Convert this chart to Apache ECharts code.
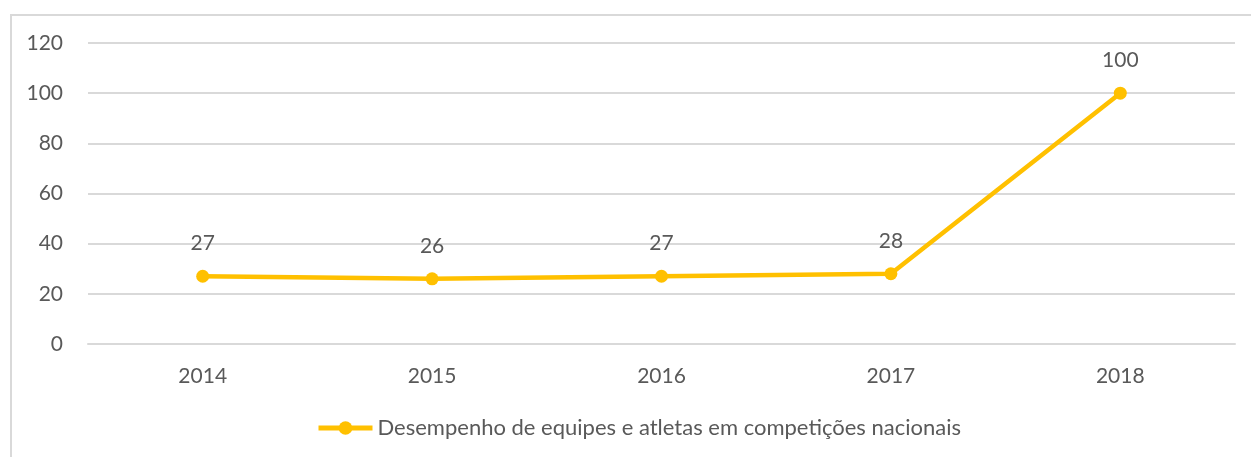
<!DOCTYPE html>
<html>
<head>
<meta charset="utf-8">
<script src="https://cdn.jsdelivr.net/npm/echarts@6/dist/echarts.min.js"></script>
<style>
  html, body { margin: 0; padding: 0; background: #fff; overflow: hidden; }
  #frame { position: absolute; left: 10px; top: 14px; width: 1300px; height: 500px;
           border-left: 2px solid #d9d9d9; border-top: 2px solid #d9d9d9; }
  #chart { position: absolute; left: 0; top: 0; width: 1251px; height: 457px; }
</style>
</head>
<body>
<div id="frame"></div>
<div id="chart"></div>
<script>
const years = ['2014', '2015', '2016', '2017', '2018']
const desempenho = [27, 26, 27, 28, 100]
const seriesName = 'Desempenho de equipes e atletas em competições nacionais'

const textColor = '#595959'
const font = 'Lato, "Noto Sans", sans-serif'

const chart = echarts.init(document.getElementById('chart'))
chart.setOption({
  animation: false,
  textStyle: { fontFamily: font },
  grid: { left: 88, right: 16, top: 43, bottom: 113 },
  legend: {
    left: 316,
    top: 417,
    padding: 0,
    itemWidth: 54,
    itemHeight: 17,
    textStyle: { color: textColor, fontSize: 22, fontFamily: font },
    lineStyle: { width: 5 },
    data: [seriesName]
  },
  xAxis: {
    type: 'category',
    data: years,
    axisTick: { show: false },
    axisLine: { lineStyle: { color: '#d9d9d9', width: 2 } },
    axisLabel: { color: textColor, fontSize: 21, margin: 22 }
  },
  yAxis: {
    type: 'value',
    min: 0,
    max: 120,
    interval: 20,
    axisLine: { show: false },
    axisTick: { show: false },
    splitLine: { lineStyle: { color: '#d9d9d9', width: 2 } },
    axisLabel: { color: textColor, fontSize: 21, margin: 25 }
  },
  series: [{
    name: seriesName,
    type: 'line',
    data: desempenho,
    color: '#FFC000',
    symbol: 'circle',
    symbolSize: 13,
    lineStyle: { width: 4.5, color: '#FFC000' },
    itemStyle: { color: '#FFC000' },
    label: {
      show: true,
      position: 'top',
      distance: 16,
      color: textColor,
      fontSize: 21
    }
  }]
})
</script>
</body>
</html>
